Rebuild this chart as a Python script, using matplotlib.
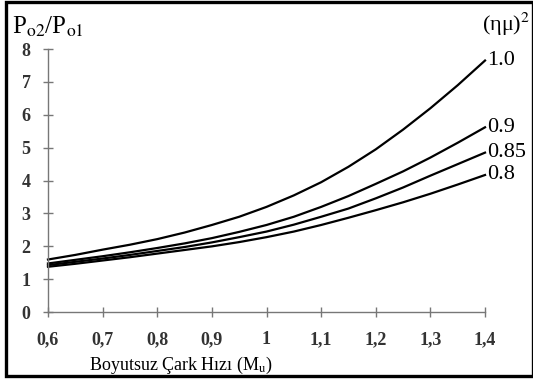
import numpy as np
import matplotlib
matplotlib.use("Agg")
import matplotlib.pyplot as plt
from matplotlib.patches import Rectangle

plt.rcParams['font.family'] = 'Liberation Serif'
plt.rcParams['mathtext.fontset'] = 'stix'

# Boyutsuz cark hizi (M_u)
mu = [0.6, 0.65, 0.7, 0.75, 0.8, 0.85, 0.9, 0.95, 1.0,
      1.05, 1.1, 1.15, 1.2, 1.25, 1.3, 1.35, 1.4]
# P_o2/P_o1 for each (eta mu)^2
p_10 = [1.60, 1.74, 1.90, 2.05, 2.22, 2.42, 2.65, 2.90, 3.20,
        3.55, 3.95, 4.42, 4.95, 5.55, 6.20, 6.90, 7.65]
p_09 = [1.48, 1.59, 1.70, 1.82, 1.95, 2.09, 2.25, 2.44, 2.65,
        2.90, 3.20, 3.53, 3.90, 4.28, 4.70, 5.15, 5.62]
p_085 = [1.43, 1.53, 1.63, 1.74, 1.86, 1.98, 2.12, 2.28, 2.45,
         2.66, 2.90, 3.15, 3.46, 3.79, 4.15, 4.50, 4.85]
p_08 = [1.38, 1.47, 1.57, 1.67, 1.78, 1.89, 2.00, 2.13, 2.28,
        2.45, 2.65, 2.87, 3.10, 3.34, 3.60, 3.88, 4.17]
curve_labels = ["1.0", "0.9", "0.85", "0.8"]

xticks = [0.6, 0.7, 0.8, 0.9, 1.0, 1.1, 1.2, 1.3, 1.4]
xticklabels = ["0,6", "0,7", "0,8", "0,9", "1", "1,1", "1,2", "1,3", "1,4"]

fig = plt.figure(figsize=(5.33, 3.83), dpi=100)
ax = fig.add_axes([0.09, 0.185, 0.82, 0.687])

for y, lab in zip([p_10, p_09, p_085, p_08], curve_labels):
    ax.plot(mu, y, "k-", lw=1.6, clip_on=False, solid_joinstyle="round")
    ax.text(mu[-1] + 0.004, y[-1], lab, fontsize=16, va="center", ha="left")

ax.set_xlim(0.6, 1.4)
ax.set_ylim(0, 8)
ax.set_xticks(xticks)
ax.set_xticklabels(xticklabels)
ax.set_yticks(range(0, 9))
for s in ["top", "right"]:
    ax.spines[s].set_visible(False)
for s in ["left", "bottom"]:
    ax.spines[s].set_color("#777777")
    ax.spines[s].set_linewidth(1.0)
ax.tick_params(direction="inout", length=7, width=1.0, color="#777777",
               labelsize=13)
ax.tick_params(axis="x", pad=10)
ax.tick_params(axis="y", pad=9)
for t in ax.get_xticklabels() + ax.get_yticklabels():
    t.set_fontweight("bold")
    t.set_color("#333333")

fig.text(0.34, 0.047, r"Boyutsuz Çark Hızı (M$_\mathrm{u}$)", fontsize=13,
         ha="center", va="center")

fig.text(0.022, 0.897, r"P$_\mathrm{o2}$/P$_\mathrm{o1}$", fontsize=18, va="bottom")
fig.text(0.995, 0.935, "(ημ)$^2$", fontsize=16, ha="right", va="center")

fig.patches.append(Rectangle((0.011, 0.018), 0.989, 0.977, transform=fig.transFigure,
                             fill=False, ec="black", lw=2.4))

fig.savefig("out.png", dpi=100)
